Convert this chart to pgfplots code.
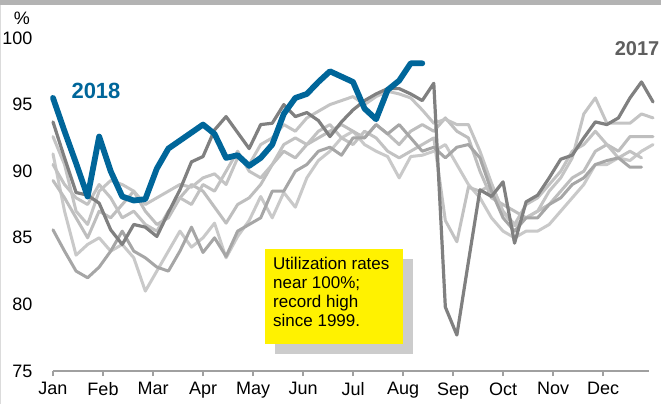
\documentclass[border=0pt]{standalone}
\usepackage{fontspec}
\setmainfont{Liberation Sans}
\usepackage{pgfplots}
\usepackage{pgfplotstable}
\pgfplotsset{compat=1.18}
\definecolor{blueE}{HTML}{00669A}
\definecolor{g17}{HTML}{808080}
\definecolor{gmed}{HTML}{A6A6A6}
\definecolor{gl1}{HTML}{C4C4C4}
\definecolor{gl2}{HTML}{BEBEBE}
\definecolor{gl3}{HTML}{C9C9C9}
\definecolor{gl4}{HTML}{C2C2C2}
\definecolor{axgray}{HTML}{A0A0A0}
\definecolor{topbar}{HTML}{B3B3B3}
\definecolor{shadow}{HTML}{CCCCCC}
\definecolor{lab17}{HTML}{5F5F5F}
\pgfplotstableread{
w  A    B    C    E    D    s17  s18
0  92.6 89.3 91.3 90.5 85.6 93.7 95.5
1  90.5 88.0 87.0 89.0 84.0 91.0 93.0
2  87.0 86.5 83.7 88.0 82.5 88.4 90.6
3  86.0 85.0 84.5 87.5 82.0 88.2 88.1
4  88.5 87.0 85.0 89.0 82.8 87.6 92.6
5  89.3 86.5 84.0 88.0 84.0 85.6 90.0
6  89.0 87.5 84.5 86.5 85.5 84.5 88.1
7  88.5 88.5 83.5 87.0 84.0 86.0 87.8
8  87.5 87.0 81.0 86.0 83.5 85.8 87.9
9  88.0 86.0 82.5 85.5 82.8 85.1 90.2
10 88.5 86.5 84.0 87.0 82.5 86.9 91.7
11 89.0 88.0 85.5 88.0 84.0 88.6 92.3
12 88.8 89.0 84.3 87.5 85.8 90.7 92.9
13 89.5 88.5 85.0 89.0 83.9 91.1 93.5
14 89.8 87.3 86.1 88.5 85.0 93.1 92.8
15 89.0 86.1 83.5 90.0 83.6 94.1 91.0
16 91.0 87.5 85.1 91.5 85.5 92.9 91.2
17 90.5 88.0 86.3 90.0 86.0 91.7 90.4
18 92.0 89.0 88.1 89.5 86.5 93.5 91.0
19 92.5 90.5 86.5 90.5 88.5 93.6 92.0
20 93.5 91.5 88.4 92.0 88.5 95.0 94.3
21 93.0 91.0 87.3 92.5 90.0 94.1 95.5
22 94.0 92.0 89.5 92.0 90.5 94.4 95.8
23 94.5 92.5 90.8 93.0 91.5 93.8 96.7
24 95.0 93.0 91.5 93.5 91.8 92.6 97.5
25 95.3 93.5 92.5 92.5 91.2 93.7 97.1
26 95.6 93.0 93.0 92.0 92.5 94.6 96.7
27 95.0 92.5 92.0 93.0 92.5 95.3 94.7
28 95.6 93.5 91.5 92.5 93.5 95.8 93.9
29 96.0 92.8 91.1 91.5 92.8 96.2 96.1
30 95.8 92.0 89.5 91.0 93.5 96.2 96.8
31 95.5 93.0 91.1 91.5 92.5 95.8 98.1
32 94.6 93.5 91.2 92.0 91.5 95.3 98.1
33 93.6 93.0 91.5 92.5 91.8 96.6 nan
34 93.9 94.0 92.0 86.3 91.0 79.8 nan
35 93.5 93.0 90.5 84.7 91.8 77.7 nan
36 93.5 92.5 89.0 88.8 92.0 83.2 nan
37 91.5 90.0 88.0 88.5 91.0 88.6 nan
38 89.1 88.0 86.5 89.0 88.5 88.1 nan
39 86.9 87.5 85.5 87.0 86.5 89.2 nan
40 85.9 87.0 85.0 86.0 85.5 84.6 nan
41 86.5 86.5 85.5 87.5 86.5 87.7 nan
42 87.0 87.0 85.5 88.0 86.5 88.2 nan
43 88.5 87.5 86.0 89.0 87.5 89.5 nan
44 89.5 88.5 87.0 90.0 88.0 90.9 nan
45 91.0 89.5 88.0 91.5 89.0 91.2 nan
46 94.3 90.0 89.0 92.0 89.5 92.5 nan
47 95.5 91.5 90.5 93.0 90.5 93.7 nan
48 93.6 92.0 90.5 92.0 90.8 93.5 nan
49 93.6 91.5 91.0 91.0 91.0 94.0 nan
50 93.6 92.6 90.8 91.5 90.3 95.5 nan
51 94.3 92.6 91.5 91.0 90.3 96.7 nan
52 94.0 92.6 92.0 nan  nan  95.2 nan
}\datatable
\begin{document}
\begin{tikzpicture}
\path[use as bounding box] (-53pt,-33pt) rectangle (608pt,371pt);
\fill[white] (-53pt,-33pt) rectangle (608pt,371pt);
\fill[topbar] (-53pt,366pt) rectangle (608pt,371pt);
\fill[shadow!70] (-53pt,-33pt) rectangle (-52pt,366pt);
\begin{axis}[
  scale only axis, width=596pt, height=333pt,
  xmin=0, xmax=51.65, ymin=75, ymax=100,
  axis x line=bottom, axis y line=left,
  y axis line style={draw=none},
  x axis line style={color=axgray, line width=1.5pt, -},
  xtick={0,4.3333,8.6667,13,17.3333,21.6667,26,30.3333,34.6667,39,43.3333,47.6667},
  xticklabels={Jan,Feb,Mar,Apr,May,Jun,Jul,Aug,Sep,Oct,Nov,Dec},
  ytick={75,80,85,90,95,100},
  ytick style={draw=none},
  xtick style={color=axgray, line width=1.5pt},
  tick align=outside, major tick length=5pt,
  tick label style={font=\fontsize{18}{20}\selectfont},
  yticklabel style={anchor=east, xshift=-12pt},
  xticklabel style={yshift=-3pt},
  /pgf/number format/assume math mode=true,
  unbounded coords=jump,
  clip=false,
  every axis plot/.append style={line join=round, line cap=round},
]
\addplot[gl3, line width=3pt] table[x=w, y=C] {\datatable};
\addplot[gl2, line width=3pt] table[x=w, y=B] {\datatable};
\addplot[gl4, line width=3pt] table[x=w, y=E] {\datatable};
\addplot[gl1, line width=3pt] table[x=w, y=A] {\datatable};
\addplot[gmed, line width=3pt] table[x=w, y=D] {\datatable};
\addplot[g17, line width=3.2pt] table[x=w, y=s17] {\datatable};
\addplot[blueE, line width=5.8pt] table[x=w, y=s18] {\datatable};
\end{axis}
\node[font=\fontsize{18}{20}\selectfont] at (-31pt,353pt) {\%};
\node[font=\fontsize{22}{24}\selectfont\bfseries, text=blueE] at (43pt,280pt) {2018};
\node[font=\fontsize{20}{22}\selectfont\bfseries, text=lab17] at (584pt,322pt) {2017};
\fill[shadow] (222pt,17pt) rectangle (360pt,112pt);
\fill[yellow] (212pt,27pt) rectangle (350pt,122pt);
\node[anchor=north west, inner sep=0pt, align=left, font=\fontsize{17}{19}\selectfont] at (220pt,114pt) {Utilization rates\\near 100\%;\\record high\\since 1999.};
\end{tikzpicture}
\end{document}
